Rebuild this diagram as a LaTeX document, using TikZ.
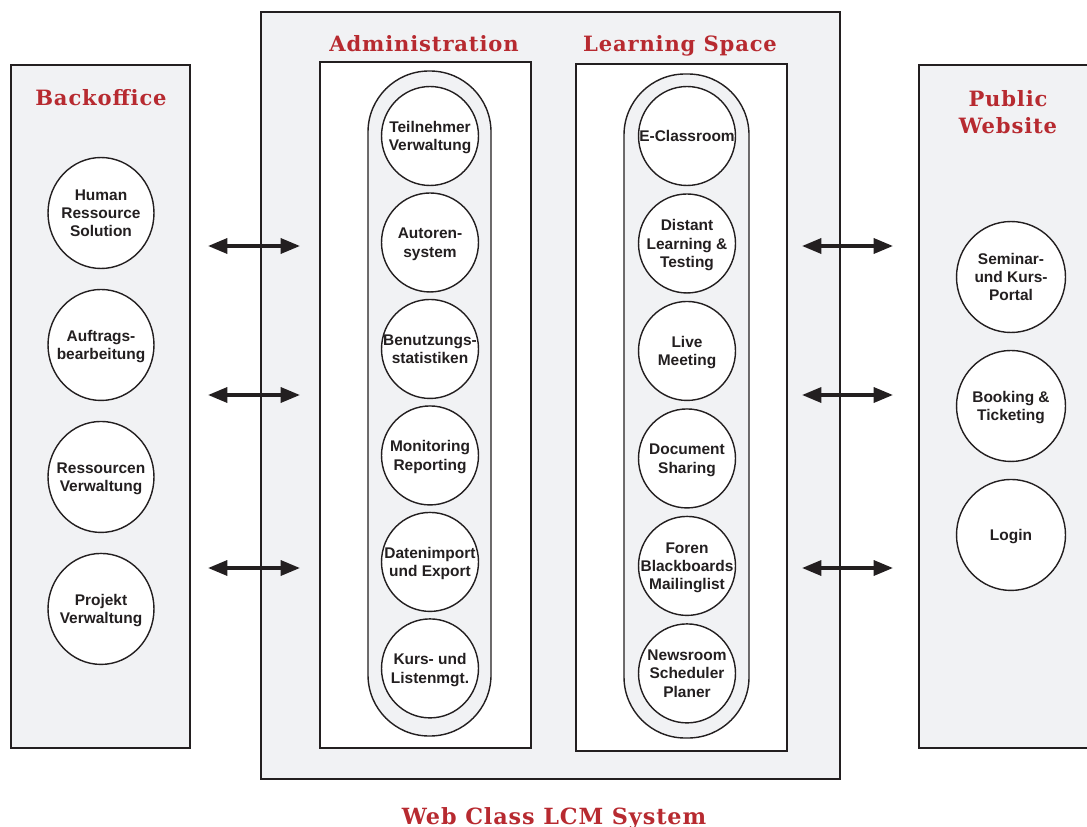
\documentclass[tikz,border=0pt]{standalone}
\usepackage{fontspec}
\setmainfont{Liberation Sans}
\newfontfamily\headfont[LetterSpace=4]{DejaVu Serif}
\usetikzlibrary{arrows.meta,positioning,shapes.geometric}
\definecolor{headred}{RGB}{183,42,48}
\definecolor{panelgray}{RGB}{241,242,244}
\definecolor{ink}{RGB}{35,31,32}
% text of a module, kept out of the node size
\newcommand{\modtext}[1]{\raisebox{-6.6pt}{\makebox[0pt]{\smash{\begin{tabular}{@{}c@{}}#1\end{tabular}}}}}

\begin{document}
\begin{tikzpicture}[x=0.02cm,y=-0.02cm,>={Triangle[length=11pt,width=8.5pt]},color=ink,line width=0.8pt]
\tikzstyle{panel}=[draw=ink,fill=panelgray]
\tikzstyle{column}=[draw=ink,fill=white]
\tikzstyle{capsule}=[draw=ink,fill=panelgray,rounded corners=1.22cm]
\tikzstyle{heading}=[text=headred,font=\headfont\bfseries\fontsize{12}{15}\selectfont,anchor=base,inner sep=0pt]
\tikzstyle{module}=[ellipse,draw=ink,fill=white,inner sep=0pt,font=\bfseries\fontsize{8.8}{10.5}\selectfont]
\tikzstyle{bomod}=[module,minimum width=2.12cm,minimum height=2.22cm]
\tikzstyle{smod}=[module,minimum width=1.94cm,minimum height=1.98cm]
\tikzstyle{pwmod}=[module,minimum width=2.18cm,minimum height=2.22cm]
\tikzstyle{link}=[<->,line width=2pt]
\useasboundingbox (0,0) rectangle (1087,827);
\clip (0,0) rectangle (1087,827);

% panels
\draw[panel] (11,65) rectangle (190,748);
\draw[panel] (261,12) rectangle (840,779);
\draw[panel] (919,65) rectangle (1100,748);
\draw[column] (320,62) rectangle (531,748);
\draw[column] (576,64) rectangle (787,751);
\draw[capsule] (368,71) rectangle (491,736);
\draw[capsule] (624,74) rectangle (749,738);

% headings
\node[heading] (bohead) at (101,106) {Backoffice};
\node[heading] (admhead) at (424,52) {Administration};
\node[heading] (lshead) at (680,52) {Learning Space};
\node[heading] (pwhead) at (1008,107) {Public};
\node[heading] (pwhead2) at (1008,134) {Website};
\node[heading,font=\headfont\bfseries\fontsize{12.7}{15}\selectfont] (syshead) at (554,824) {Web Class LCM System};

% backoffice
\node[bomod] (hr) at (101,213) {\modtext{Human\\Ressource\\Solution}};
\node[bomod] (ab) [below of=hr,node distance=2.64cm] {\modtext{Auftrags-\\bearbeitung}};
\node[bomod] (rv) [below of=ab,node distance=2.64cm] {\modtext{Ressourcen\\Verwaltung}};
\node[bomod] (pv) [below of=rv,node distance=2.64cm] {\modtext{Projekt\\Verwaltung}};

% administration
\node[smod] (tv) at (430,136) {\modtext{Teilnehmer\\Verwaltung}};
\node[smod] (as) [below of=tv,node distance=2.13cm] {\modtext{Autoren-\\system}};
\node[smod] (bs) [below of=as,node distance=2.13cm] {\modtext{Benutzungs-\\statistiken}};
\node[smod] (mr) [below of=bs,node distance=2.13cm] {\modtext{Monitoring\\Reporting}};
\node[smod] (de) [below of=mr,node distance=2.13cm] {\modtext{Datenimport\\und Export}};
\node[smod] (kl) [below of=de,node distance=2.13cm] {\modtext{Kurs- und\\Listenmgt.}};

% learning space
\node[smod] (ec) at (687,136) {\modtext{E-Classroom}};
\node[smod] (dl) [below of=ec,node distance=2.15cm] {\modtext{Distant\\Learning \&\\Testing}};
\node[smod] (lm) [below of=dl,node distance=2.15cm] {\modtext{Live\\Meeting}};
\node[smod] (ds) [below of=lm,node distance=2.15cm] {\modtext{Document\\Sharing}};
\node[smod] (fb) [below of=ds,node distance=2.15cm] {\modtext{Foren\\Blackboards\\Mailinglist}};
\node[smod] (ns) [below of=fb,node distance=2.15cm] {\modtext{Newsroom\\Scheduler\\Planer}};

% public website
\node[pwmod] (sk) at (1011,277) {\modtext{Seminar-\\und Kurs-\\Portal}};
\node[pwmod] (bt) [below of=sk,node distance=2.58cm] {\modtext{Booking \&\\Ticketing}};
\node[pwmod] (lg) [below of=bt,node distance=2.58cm] {\modtext{Login}};

% arrows
\foreach \y [count=\i] in {246,395,568} {
  \coordinate (la\i) at (208,\y);
  \coordinate (lb\i) at (300,\y);
  \coordinate (ra\i) at (802,\y);
  \coordinate (rb\i) at (893,\y);
  \draw[link] (la\i) -- (lb\i);
  \draw[link] (ra\i) -- (rb\i);
}
\end{tikzpicture}
\end{document}
